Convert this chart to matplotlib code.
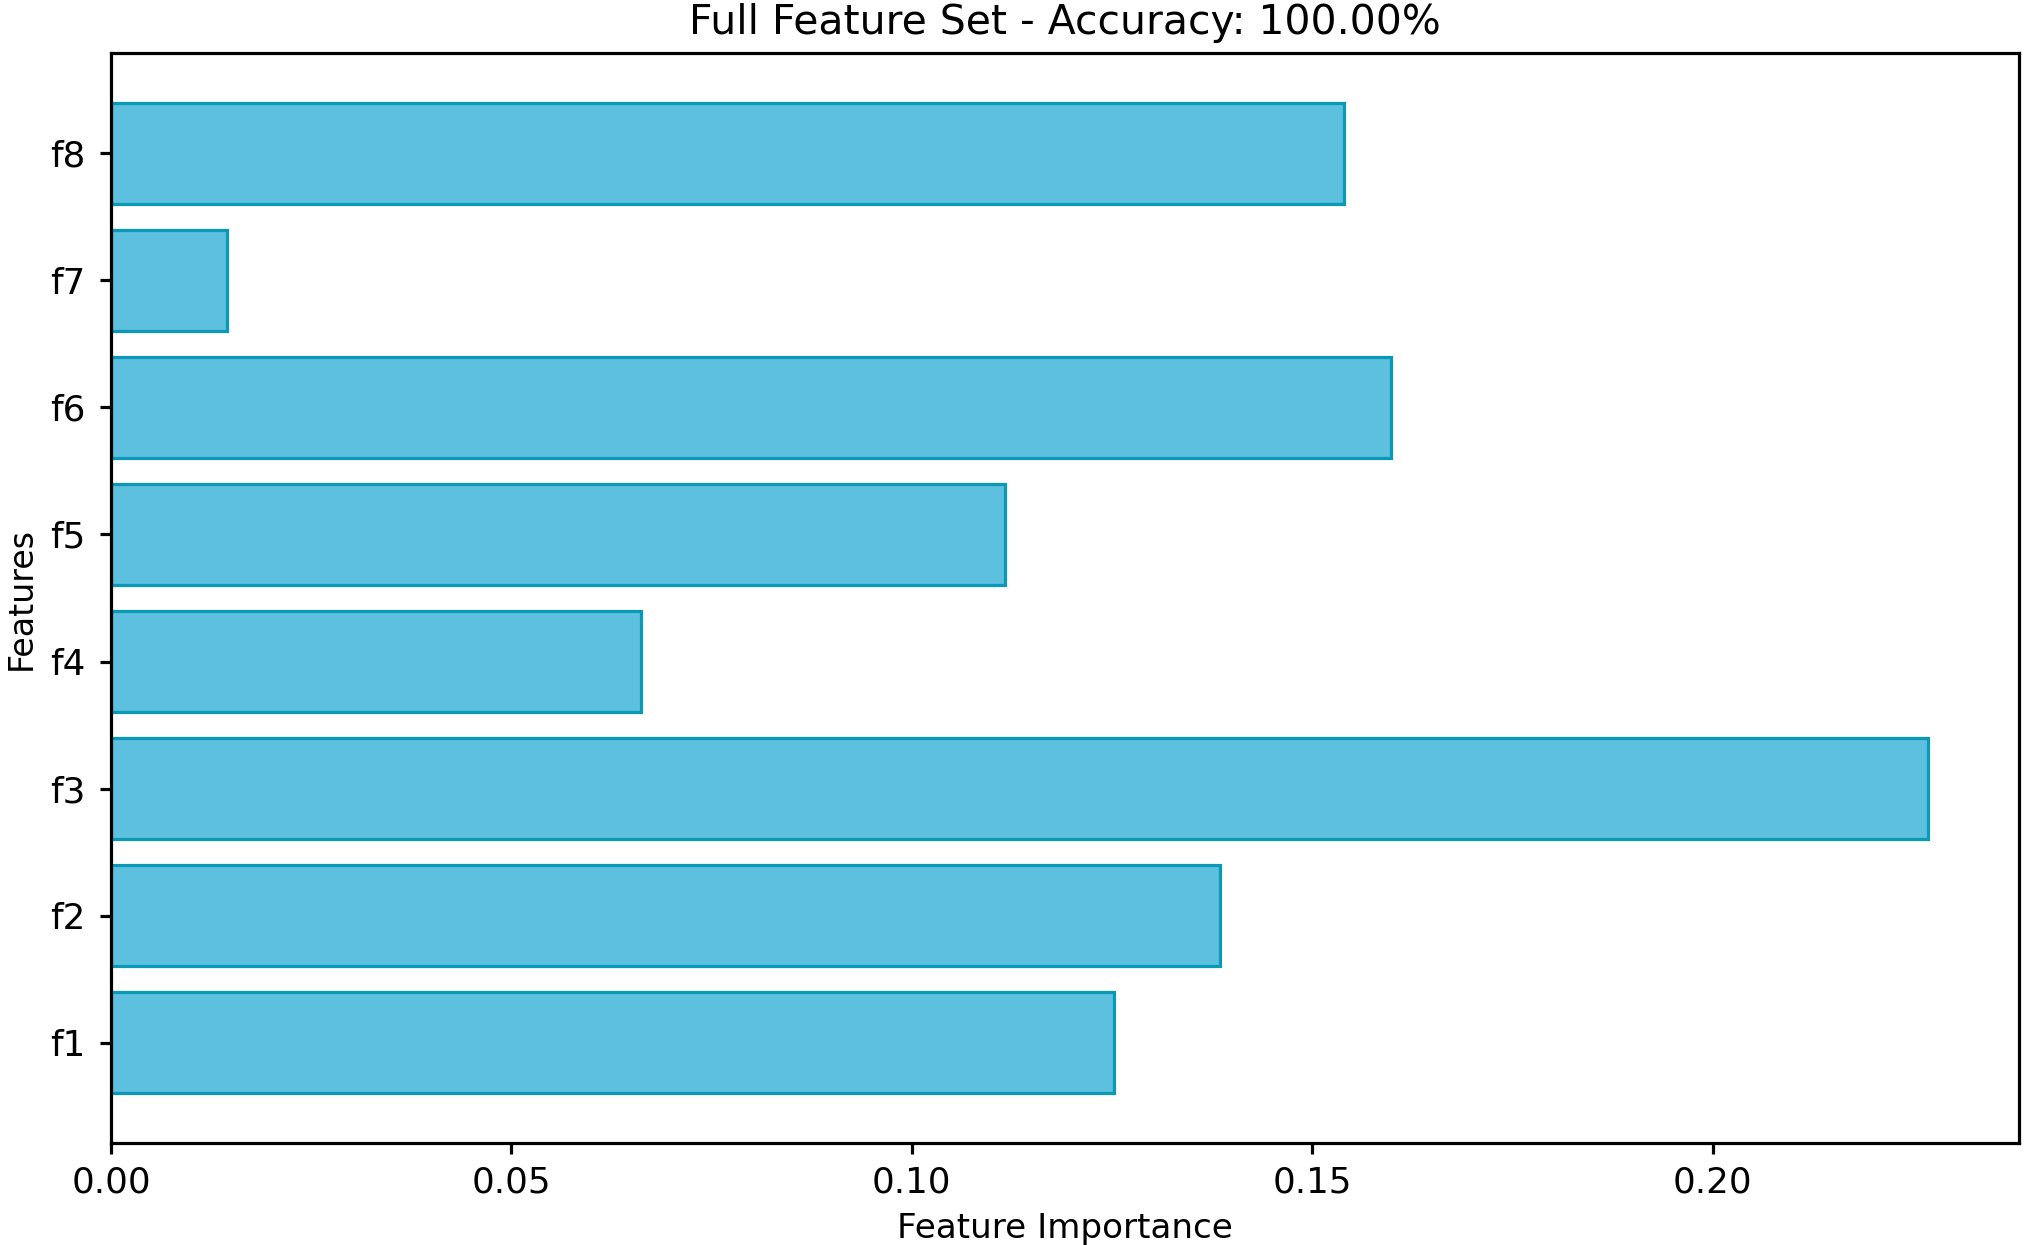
import matplotlib
matplotlib.use("Agg")
import matplotlib.pyplot as plt

features = ["f1", "f2", "f3", "f4", "f5", "f6", "f7", "f8"]
importances = [0.1253, 0.1385, 0.2269, 0.0662, 0.1116, 0.1598, 0.0145, 0.1539]
accuracy = 100.00

DPI = 230
W, H = 2025, 1245
fig = plt.figure(figsize=(W / DPI, H / DPI), dpi=DPI)
left, right, top, bottom = 111, 2019, 53, 1143
ax = fig.add_axes([left / W, (H - bottom) / H, (right - left) / W, (bottom - top) / H])

ax.barh(features, importances, height=0.8, color="#5dc0de",
        edgecolor="#0a9ab8", linewidth=1.0)

ax.set_title(f"Full Feature Set - Accuracy: {accuracy:.2f}%", fontsize=12.8, pad=6)
ax.set_xlabel("Feature Importance", fontsize=10.7)
ax.set_ylabel("Features", fontsize=10.4, labelpad=4)
ax.tick_params(axis="x", labelsize=11.2, width=1.0)
ax.tick_params(axis="y", labelsize=11.2, width=1.0, pad=4.5)
for s in ax.spines.values():
    s.set_linewidth(1.0)

fig.savefig("out.png", dpi=DPI)
